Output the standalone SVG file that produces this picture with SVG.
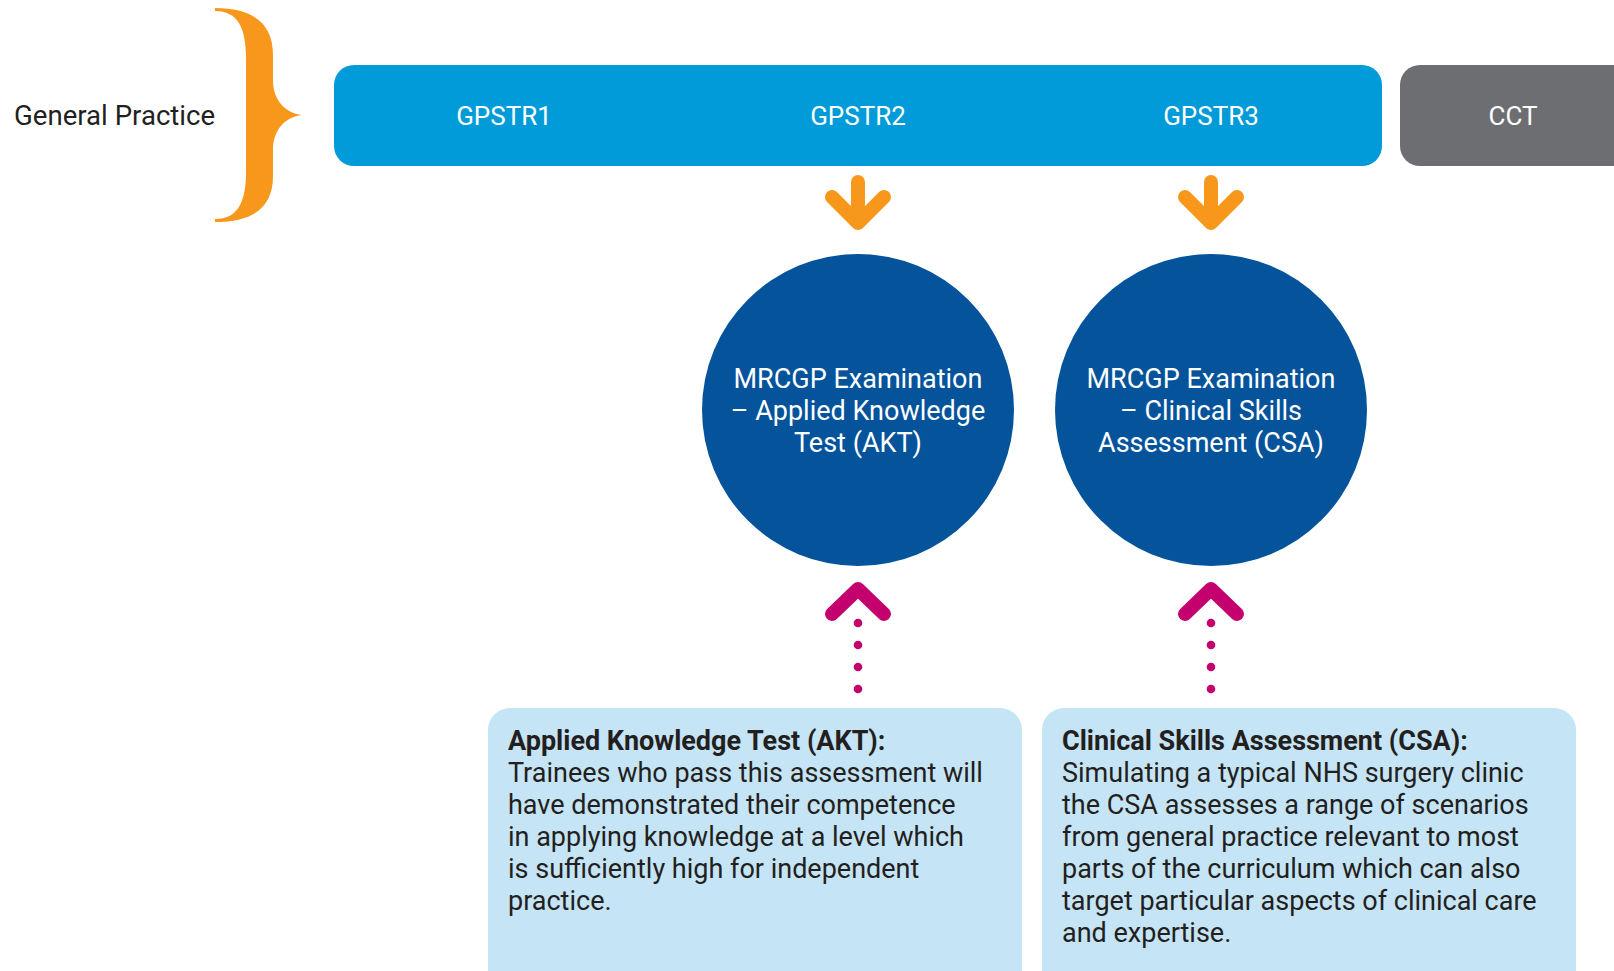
<svg xmlns="http://www.w3.org/2000/svg" width="1614" height="971" viewBox="0 0 1614 971">
<defs>
<style>
.t{font-family:Roboto,"Open Sans","Liberation Sans",sans-serif}
.w{fill:#ffffff;font-size:26px;text-anchor:middle}
.c{fill:#ffffff;font-size:27px;text-anchor:middle}
.d{fill:#231F20;font-size:27px}
.g{font-size:27.6px}
.b{font-weight:bold}
.down{fill:none;stroke:#F7981D;stroke-width:14;stroke-linecap:round;stroke-linejoin:round}
.up{fill:none;stroke:#C4006E;stroke-width:14;stroke-linecap:round;stroke-linejoin:round}
.dot{fill:#C4006E}
</style>
</defs>
<rect width="1614" height="971" fill="#ffffff"/>
<g id="label-general-practice">
<text class="t d g" x="14" y="125">General Practice</text>
<path d="M215 8 C255 8 273 25 273 55 L273 80 C273 100 285 113 302 115 C285 117 273 130 273 150 L273 176 C273 206 255 222 215 222 L215 219 C238 219 246 202 246 172 L246 58 C246 28 238 11 215 11 Z" fill="#F7981D"/>
</g>
<g id="gpstr-bar">
<rect x="334" y="65" width="1048" height="101" rx="20" fill="#009BD8"/>
<text class="t w" x="504" y="125">GPSTR1</text>
<text class="t w" x="858" y="125">GPSTR2</text>
<text class="t w" x="1211" y="125">GPSTR3</text>
</g>
<g id="cct">
<rect x="1400" y="65" width="240" height="101" rx="20" fill="#6D6E71"/>
<text class="t w" x="1513" y="125">CCT</text>
</g>
<g id="akt-circle">
<circle cx="858" cy="410" r="156" fill="#04539B"/>
<text class="t c"><tspan x="858" y="388">MRCGP Examination</tspan><tspan x="858" y="420">– Applied Knowledge</tspan><tspan x="858" y="452">Test (AKT)</tspan></text>
</g>
<g id="csa-circle">
<circle cx="1211" cy="410" r="156" fill="#04539B"/>
<text class="t c"><tspan x="1211" y="388">MRCGP Examination</tspan><tspan x="1211" y="420">– Clinical Skills</tspan><tspan x="1211" y="452">Assessment (CSA)</tspan></text>
</g>
<g id="akt-box">
<rect x="488" y="708" width="534" height="300" rx="22" fill="#C5E4F5"/>
<text class="t d"><tspan class="b" x="508" y="750">Applied Knowledge Test (AKT):</tspan><tspan x="508" y="782">Trainees who pass this assessment will</tspan><tspan x="508" y="814">have demonstrated their competence</tspan><tspan x="508" y="846">in applying knowledge at a level which</tspan><tspan x="508" y="878">is sufficiently high for independent</tspan><tspan x="508" y="910">practice.</tspan></text>
</g>
<g id="csa-box">
<rect x="1042" y="708" width="534" height="300" rx="22" fill="#C5E4F5"/>
<text class="t d"><tspan class="b" x="1062" y="750">Clinical Skills Assessment (CSA):</tspan><tspan x="1062" y="782">Simulating a typical NHS surgery clinic</tspan><tspan x="1062" y="814">the CSA assesses a range of scenarios</tspan><tspan x="1062" y="846">from general practice relevant to most</tspan><tspan x="1062" y="878">parts of the curriculum which can also</tspan><tspan x="1062" y="910">target particular aspects of clinical care</tspan><tspan x="1062" y="942">and expertise.</tspan></text>
</g>
<g id="connectors">
<path class="down" d="M858 182 L858 222 M832 197 L858 223 L884 197"/>
<path class="down" d="M1211 182 L1211 222 M1185 197 L1211 223 L1237 197"/>
<path class="up" d="M832 614 L858 589 L884 614"/>
<path class="up" d="M1185 614 L1211 589 L1237 614"/>
<circle class="dot" cx="858" cy="623" r="4.3"/>
<circle class="dot" cx="858" cy="645" r="4.3"/>
<circle class="dot" cx="858" cy="667" r="4.3"/>
<circle class="dot" cx="858" cy="689" r="4.3"/>
<circle class="dot" cx="1211" cy="623" r="4.3"/>
<circle class="dot" cx="1211" cy="645" r="4.3"/>
<circle class="dot" cx="1211" cy="667" r="4.3"/>
<circle class="dot" cx="1211" cy="689" r="4.3"/>
</g>
</svg>
